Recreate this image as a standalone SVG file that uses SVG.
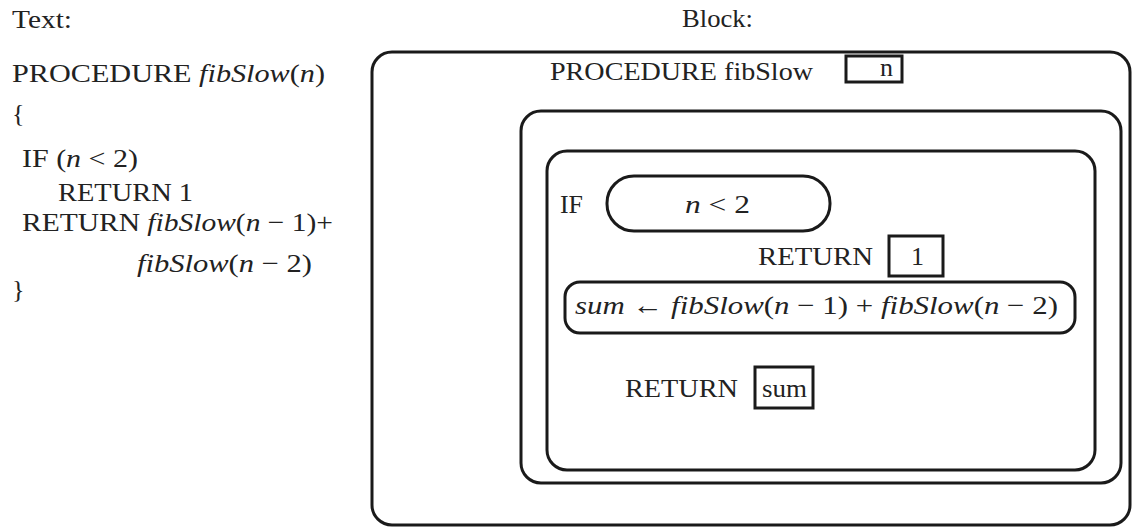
<svg xmlns="http://www.w3.org/2000/svg" width="1138" height="527" viewBox="0 0 1138 527">
<style>
text{font-family:"Liberation Serif","Times New Roman",serif;font-size:26px;fill:#222}
.it{font-style:italic}
.box{fill:none;stroke:#1a1a1a;stroke-width:3}
</style>
<rect width="1138" height="527" fill="#fff"/>
<g id="headings">
<text x="12" y="28" textLength="60" lengthAdjust="spacingAndGlyphs">Text:</text>
<text x="682" y="27" textLength="71" lengthAdjust="spacingAndGlyphs">Block:</text>
</g>
<g id="source-text">
<text x="12" y="82" textLength="313" lengthAdjust="spacingAndGlyphs">PROCEDURE <tspan class="it">fibSlow</tspan>(<tspan class="it">n</tspan>)</text>
<text x="12" y="122">{</text>
<text x="22" y="167" textLength="116" lengthAdjust="spacingAndGlyphs">IF (<tspan class="it">n</tspan> &lt; 2)</text>
<text x="58" y="201" textLength="135" lengthAdjust="spacingAndGlyphs">RETURN 1</text>
<text x="22" y="231" textLength="311" lengthAdjust="spacingAndGlyphs">RETURN <tspan class="it">fibSlow</tspan>(<tspan class="it">n</tspan> − 1)+</text>
<text x="137" y="272" textLength="175" lengthAdjust="spacingAndGlyphs"><tspan class="it">fibSlow</tspan>(<tspan class="it">n</tspan> − 2)</text>
<text x="12" y="298">}</text>
</g>
<g id="procedure-block">
<rect class="box" x="372" y="52" width="758" height="473" rx="20"/>
<text x="550" y="80" textLength="263" lengthAdjust="spacingAndGlyphs">PROCEDURE fibSlow</text>
</g>
<g id="param-n">
<rect class="box" x="846" y="56" width="56" height="26"/>
<text x="880" y="76">n</text>
</g>
<g id="body-block">
<rect class="box" x="521" y="111" width="600" height="372" rx="20"/>
</g>
<g id="if-block">
<rect class="box" x="547" y="151" width="548" height="319" rx="20"/>
<text x="560" y="213" textLength="23" lengthAdjust="spacingAndGlyphs">IF</text>
</g>
<g id="condition">
<rect class="box" x="607" y="176" width="223" height="55" rx="27"/>
<text x="685" y="213" textLength="65" lengthAdjust="spacingAndGlyphs"><tspan class="it">n</tspan> &lt; 2</text>
</g>
<g id="return-1">
<text x="758" y="265" textLength="115" lengthAdjust="spacingAndGlyphs">RETURN</text>
<rect class="box" x="889" y="236" width="54" height="40"/>
<text x="911" y="265">1</text>
</g>
<g id="sum-assign">
<rect class="box" x="565" y="282" width="510" height="51" rx="15"/>
<text x="575" y="314" textLength="483" lengthAdjust="spacingAndGlyphs"><tspan class="it">sum</tspan> ← <tspan class="it">fibSlow</tspan>(<tspan class="it">n</tspan> − 1) + <tspan class="it">fibSlow</tspan>(<tspan class="it">n</tspan> − 2)</text>
</g>
<g id="return-sum">
<text x="625" y="397" textLength="113" lengthAdjust="spacingAndGlyphs">RETURN</text>
<rect class="box" x="755" y="367" width="58" height="41"/>
<text x="762" y="397" textLength="45" lengthAdjust="spacingAndGlyphs">sum</text>
</g>
<g id="connectors"></g>
</svg>
